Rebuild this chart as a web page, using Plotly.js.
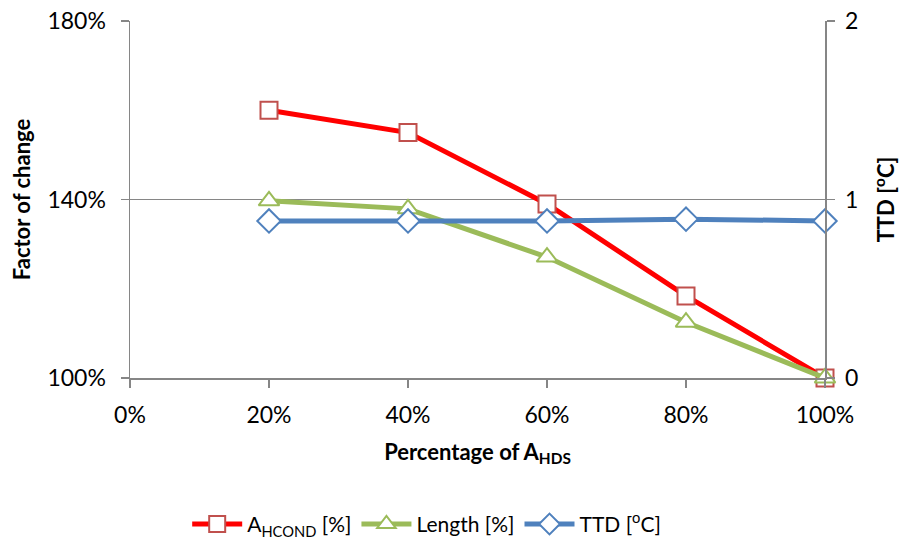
<!DOCTYPE html>
<html>
<head>
<meta charset="utf-8">
<script src="https://cdn.plot.ly/plotly-3.0.1.min.js"></script>
<style>html,body{margin:0;padding:0;background:#fff;}#chart{width:904px;height:545px;}</style>
</head>
<body>
<div id="chart"></div>
<script>
const xPct = [20, 40, 60, 80, 100];
const ahcond = [160.0, 155.0, 139.0, 118.4, 100.0];
const lengthPct = [139.7, 137.9, 127.1, 112.5, 100.0];
const ttd = [0.88, 0.88, 0.88, 0.89, 0.88];
const xTicks = [0, 20, 40, 60, 80, 100];
const xTickText = ['0%', '20%', '40%', '60%', '80%', '100%'];
const yTicks = [100, 140, 180];
const yTickText = ['100%', '140%', '180%'];
const y2Ticks = [0, 1, 2];

const FONT = 'Lato, "Open Sans", sans-serif';
const AX = '#868686';

const traces = [
  {
    x: xPct, y: ahcond, name: 'A<sub>HCOND</sub> [%]', type: 'scatter', mode: 'lines+markers',
    line: {color: '#FF0000', width: 5},
    marker: {symbol: 'square', size: 17, color: '#FFFFFF', line: {color: '#C0504D', width: 2}},
    cliponaxis: false
  },
  {
    x: xPct, y: lengthPct, name: 'Length [%]', type: 'scatter', mode: 'lines+markers',
    line: {color: '#9BBB59', width: 5},
    marker: {symbol: 'triangle-up', size: 18, color: '#FFFFFF', line: {color: '#9BBB59', width: 2}},
    cliponaxis: false
  },
  {
    x: xPct, y: ttd, name: 'TTD [<sup>o</sup>C]', type: 'scatter', mode: 'lines+markers', yaxis: 'y2',
    line: {color: '#4F81BD', width: 5},
    marker: {symbol: 'diamond', size: 18, color: '#FFFFFF', line: {color: '#4F81BD', width: 2}},
    cliponaxis: false
  }
];

const layout = {
  width: 904, height: 545,
  margin: {l: 130, r: 79, t: 21, b: 167, autoexpand: false},
  paper_bgcolor: '#FFFFFF', plot_bgcolor: '#FFFFFF',
  font: {family: FONT, size: 22, color: '#000000'},
  showlegend: true,
  legend: {orientation: 'h', xref: 'container', yref: 'container', x: 0.472, xanchor: 'center', y: 0.038, yanchor: 'middle',
           font: {family: FONT, size: 21, color: '#000'}, itemwidth: 50, tracegroupgap: 0},
  xaxis: {
    range: [0, 100], tickvals: xTicks, ticktext: xTickText, automargin: false,
    showgrid: false, zeroline: false, showline: true, linecolor: AX, linewidth: 1.5,
    ticks: 'outside', ticklen: 8, tickcolor: AX, tickwidth: 1.5, ticklabelstandoff: 8,
    tickfont: {family: FONT, size: 23},
    title: {text: '<b>Percentage of A<sub>HDS</sub></b>', font: {family: FONT, size: 22}, standoff: 17}
  },
  yaxis: {
    range: [100, 180], tickvals: yTicks, ticktext: yTickText, automargin: false,
    showgrid: true, gridcolor: AX, gridwidth: 1.5, zeroline: false,
    showline: true, linecolor: AX, linewidth: 1.5,
    ticks: 'outside', ticklen: 8, tickcolor: AX, tickwidth: 1.5, ticklabelstandoff: 10,
    tickfont: {family: FONT, size: 23},
    title: {text: '<b>Factor of change</b>', font: {family: FONT, size: 22}, standoff: 10}
  },
  yaxis2: {
    range: [0, 2], tickvals: y2Ticks, overlaying: 'y', side: 'right', automargin: false,
    showgrid: false, zeroline: false, showline: true, linecolor: AX, linewidth: 1.5,
    ticks: 'outside', ticklen: 8, tickcolor: AX, tickwidth: 1.5, ticklabelstandoff: 6,
    tickfont: {family: FONT, size: 23},
    title: {text: '<b>TTD [<sup>o</sup>C]</b>', font: {family: FONT, size: 22}, standoff: 21}
  }
};

Plotly.newPlot('chart', traces, layout, {displayModeBar: false, staticPlot: true});
</script>
</body>
</html>
